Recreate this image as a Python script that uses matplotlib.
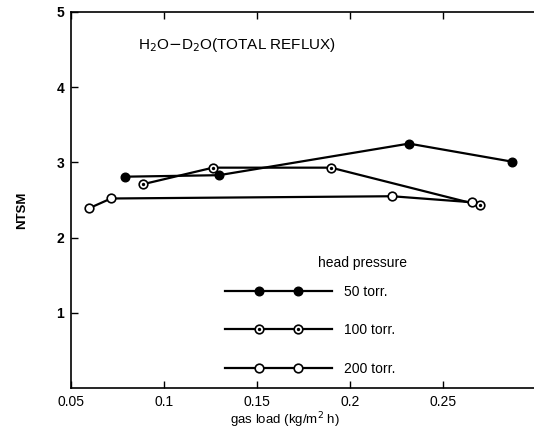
import matplotlib.pyplot as plt
from matplotlib.legend_handler import HandlerLine2D

plt.rcParams['font.family'] = ['Liberation Sans', 'DejaVu Sans']

# ---- data ----
x_50 = [0.079, 0.1296, 0.2317, 0.2871]
y_50 = [2.81, 2.83, 3.25, 3.01]

x_100 = [0.0887, 0.1263, 0.1898, 0.2699]
y_100 = [2.71, 2.93, 2.93, 2.43]

x_200 = [0.0597, 0.0715, 0.2226, 0.2656]
y_200 = [2.39, 2.52, 2.55, 2.47]

labels = ["50 torr.", "100 torr.", "200 torr."]
x_ticks = [0.05, 0.1, 0.15, 0.2, 0.25]
x_ticklabels = ["0.05", "0.1", "0.15", "0.2", "0.25"]
y_ticks = [1, 2, 3, 4, 5]


class LongLineHandler(HandlerLine2D):
    # two markers set in from the ends, line running the full handle width
    def create_artists(self, legend, orig_handle, xdescent, ydescent,
                       width, height, fontsize, trans):
        arts = super().create_artists(legend, orig_handle, xdescent, ydescent,
                                      width, height, fontsize, trans)
        line = arts[0]
        xm = list(line.get_xdata())
        ym = list(line.get_ydata())
        line.set_data([-xdescent] + xm + [-xdescent + width],
                      [ym[0]] + ym + [ym[0]])
        line.set_markevery(list(range(1, len(xm) + 1)))
        return arts


# ---- figure ----
W, H = 534, 430
fig = plt.figure(figsize=(W / 100, H / 100), dpi=100)
ax = fig.add_axes([71 / W, 1 - 388 / H, 465 / W, 376 / H])

lw = 1.6
ms = 6.2
l50, = ax.plot(x_50, y_50, '-', color='black', lw=lw, marker='o', ms=ms,
               mfc='black', mec='black', zorder=3)
l100, = ax.plot(x_100, y_100, '-', color='black', lw=lw, marker='o', ms=ms,
                mfc='white', mec='black', mew=1.2, zorder=3)
d100, = ax.plot(x_100, y_100, ls='none', marker='o', ms=1.4, color='black', zorder=4)
l200, = ax.plot(x_200, y_200, '-', color='black', lw=lw, marker='o', ms=ms,
                mfc='white', mec='black', mew=1.2, zorder=3)

ax.set_xlim(0.05, 0.30)
ax.set_ylim(0, 5)
ax.set_xticks(x_ticks)
ax.set_xticklabels(x_ticklabels)
ax.set_yticks(y_ticks)
ax.tick_params(direction='in', length=5, width=1, top=True, labelsize=10, pad=5)
for lab in ax.get_yticklabels():
    lab.set_fontweight('bold')
ax.spines['right'].set_visible(False)
for s in ['left', 'bottom', 'top']:
    ax.spines[s].set_linewidth(1.2)

ax.set_xlabel("gas load (kg/m$^2$ h)", fontsize=9.5, va='center')
ax.xaxis.set_label_coords(0.46, -0.085)
ax.set_ylabel("NTSM", fontsize=9.5, fontweight='bold', va='center')
ax.yaxis.set_label_coords(-0.105, 0.473)

ax.text(0.144, 0.912, "H$_2$O$-$D$_2$O(TOTAL REFLUX)", transform=ax.transAxes,
        fontsize=11, va='center', ha='left')

# legend drawn by matplotlib, title placed as plain text
hnd = LongLineHandler(marker_pad=2.45, numpoints=2)
leg = ax.legend([l50, (l100, d100), l200], labels,
                handler_map={l50: hnd, l100: hnd, d100: hnd, l200: hnd},
                loc='upper left', bbox_to_anchor=(225 / W, 1 - 284.5 / H),
                bbox_transform=fig.transFigure, frameon=False, fontsize=10,
                handlelength=7.7, handletextpad=0.86, labelspacing=1.77,
                borderpad=0, borderaxespad=0)
fig.text(318 / W, 1 - 263 / H, "head pressure", fontsize=10, va='center', ha='left')

fig.savefig("out.png", dpi=100)
